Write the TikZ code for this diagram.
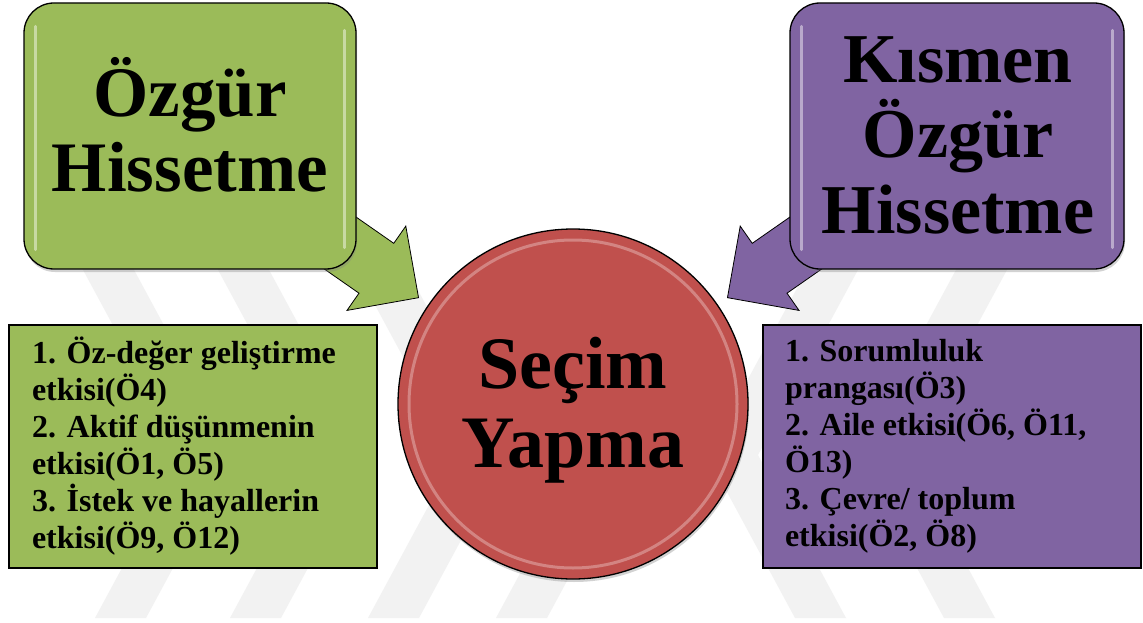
\documentclass[tikz,border=0pt]{standalone}
\usepackage{fontspec}
\setmainfont{Liberation Serif}
\definecolor{offgreen}{RGB}{155,187,89}
\definecolor{offpurple}{RGB}{128,100,162}
\definecolor{offred}{RGB}{192,80,77}
\usetikzlibrary{shadows,shapes.arrows}

\begin{document}
\begin{tikzpicture}[x=1pt,y=-1pt,
  wmark/.style={fill=black!5},
  titlebox/.style={draw=black, line width=1.3pt, rounded corners=30pt, minimum height=266pt,
    drop shadow={opacity=.35, shadow xshift=1pt, shadow yshift=-3pt}},
  listbox/.style={draw=black, line width=1.3pt, minimum height=243pt, align=flush left,
    font=\fontsize{32}{37}\selectfont\bfseries},
  bigtext/.style={align=center, font=\fontsize{71}{74.5}\selectfont\bfseries},
  blockarrow/.style={single arrow, draw=black, line width=.8pt, minimum height=130pt,
    inner xsep=0pt, inner ysep=30pt, single arrow head extend=21pt, anchor=tip},
  gloss/.style={white, opacity=.45, line width=3pt, line cap=round}]

  \fill[white] (0,0) rectangle (1143,623);
  \useasboundingbox (0,0) rectangle (1143,623);

  % watermark
  \foreach \x in {95,230,368,496}
    \fill[wmark] (\x,618) -- ++(88,-163) -- ++(-108,-200) -- ++(51,0) -- ++(108,200) -- ++(-88,163) -- cycle;
  \foreach \x in {795,944}
    \fill[wmark] (\x,618) -- ++(-88,-163) -- ++(108,-200) -- ++(51,0) -- ++(-108,200) -- ++(88,163) -- cycle;

  \coordinate (freetip) at (419,298);
  \coordinate (parttip) at (727,298);
  \node [blockarrow, fill=offgreen, rotate=-34.9] (freearrow) at (freetip) {};
  \node [blockarrow, fill=offpurple, rotate=214.9] (partarrow) at (parttip) {};

  \node [titlebox, fill=offgreen, minimum width=332pt] (free) at (190,136) {};
  \node [titlebox, fill=offpurple, minimum width=334pt] (partial) at (957,136) {};
  \foreach \b in {free,partial} {
    \draw [gloss] ([xshift=12pt,yshift=-24pt]\b.north west) -- ([xshift=12pt,yshift=20pt]\b.south west);
    \draw [gloss] ([xshift=-12pt,yshift=-28pt]\b.north east) -- ([xshift=-12pt,yshift=22pt]\b.south east);
  }

  \node [circle, draw=black, line width=1.3pt, fill=offred, minimum size=350pt,
    drop shadow={opacity=.35, shadow xshift=1pt, shadow yshift=-3pt}] (choice) at (573,404) {};
  \draw [gloss, opacity=.3] (choice.center) circle (164pt);

  \node [listbox, fill=offgreen, text width=322pt, inner xsep=23pt] (freelist) at (193,446.5)
    {1. Öz-değer geliştirme\\etkisi(Ö4)\\2. Aktif düşünmenin\\etkisi(Ö1, Ö5)\\3. İstek ve hayallerin\\etkisi(Ö9, Ö12)};
  \node [listbox, fill=offpurple, text width=334pt, inner xsep=22pt] (partlist) at (952,446.5)
    {1. Sorumluluk\\prangası(Ö3)\\2. Aile etkisi(Ö6, Ö11,\\Ö13)\\3. Çevre/ toplum\\etkisi(Ö2, Ö8)};

  \node [bigtext] (freetext) at (190,125) {Özgür\\Hissetme};
  \node [bigtext, font=\fontsize{70}{75.5}\selectfont\bfseries] (parttext) at (958,135) {Kısmen\\Özgür\\Hissetme};
  \node [bigtext, font=\fontsize{74}{79}\selectfont\bfseries] (choicetext) at (573,410) {Seçim\\Yapma};

\end{tikzpicture}
\end{document}
